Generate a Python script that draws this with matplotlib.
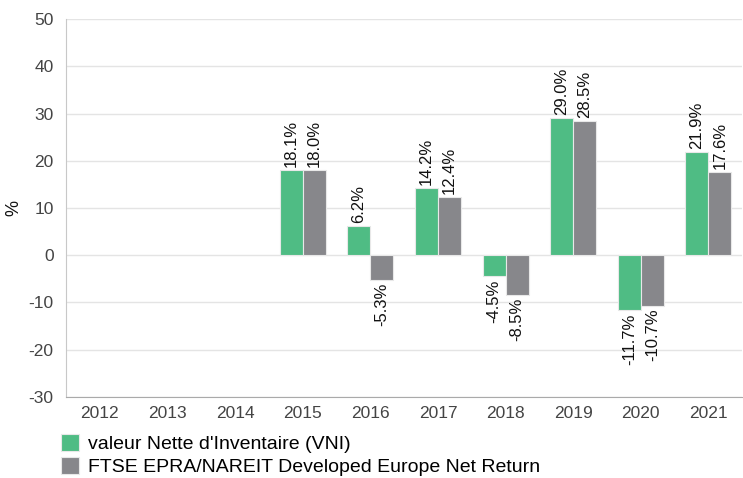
import matplotlib.pyplot as plt
import numpy as np

plt.rcParams['font.family'] = ['Liberation Sans', 'DejaVu Sans']
plt.rcParams['axes.unicode_minus'] = False

years = ['2012', '2013', '2014', '2015', '2016', '2017', '2018', '2019', '2020', '2021']
vni = [np.nan, np.nan, np.nan, 18.1, 6.2, 14.2, -4.5, 29.0, -11.7, 21.9]
ftse = [np.nan, np.nan, np.nan, 18.0, -5.3, 12.4, -8.5, 28.5, -10.7, 17.6]
names = ["valeur Nette d'Inventaire (VNI)",
         "FTSE EPRA/NAREIT Developed Europe Net Return"]
colors = ['#4fbc84', '#87878b']

fig = plt.figure(figsize=(7.43, 4.78), dpi=100)
ax = fig.add_axes([0.089, 0.17, 0.91, 0.79])

x = np.arange(len(years))
w = 0.34
series = [vni, ftse]
for i, vals in enumerate(series):
    pos = x + (i - 0.5) * w
    ax.bar(pos, vals, width=w, color=colors[i], edgecolor='#e8e8e8',
           linewidth=0.8, label=names[i], zorder=3)
    for p, v in zip(pos, vals):
        if np.isnan(v):
            continue
        if v >= 0:
            ax.text(p, v + 0.6, f'{v:.1f}%', rotation=90, ha='center',
                    va='bottom', fontsize=12, color='#111111')
        else:
            ax.text(p, v - 0.6, f'{v:.1f}%', rotation=90, ha='center',
                    va='top', fontsize=12, color='#111111')

ax.set_xlim(-0.5, len(years) - 0.5)
ax.set_ylim(-30, 50)
ax.set_yticks(np.arange(-30, 51, 10))
ax.set_xticks(x)
ax.set_xticklabels(years)
ax.tick_params(axis='both', length=0, labelsize=12.5, colors='#444444')
ax.tick_params(axis='x', pad=7)
ax.tick_params(axis='y', pad=9)
ax.grid(axis='y', color='#e4e4e4', linewidth=1, zorder=0)
for s in ['top', 'right']:
    ax.spines[s].set_visible(False)
ax.spines['left'].set_color('#c8c8c8')
ax.spines['bottom'].set_color('#aaaaaa')
fig.text(0.019, 0.565, '%', rotation=90, ha='center', va='center',
         fontsize=13, color='#111111')

fig.legend(loc='lower left', bbox_to_anchor=(0.071, -0.013), frameon=False,
           fontsize=14, handlelength=0.95, handleheight=1.0,
           handletextpad=0.45, labelspacing=0.2, borderaxespad=0)

fig.savefig('out.png', dpi=100)
